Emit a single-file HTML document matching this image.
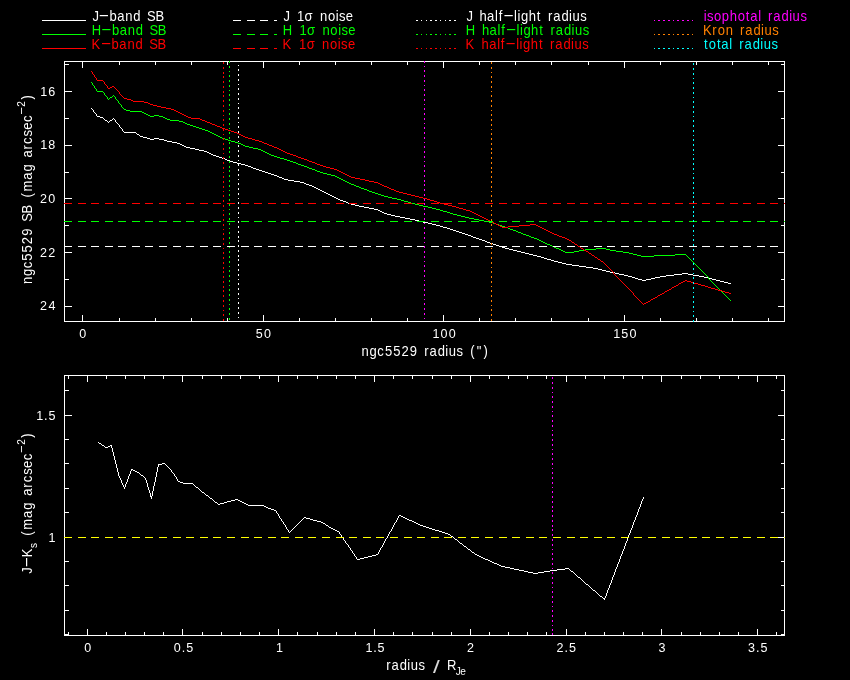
<!DOCTYPE html>
<html lang="en">
<head>
<meta charset="utf-8">
<title>ngc5529 surface brightness profile</title>
<style>
html,body{margin:0;padding:0;background:#000;}
body{width:850px;height:680px;overflow:hidden;}
svg{display:block;}
text{font-family:"Liberation Sans", sans-serif;white-space:pre;}
</style>
</head>
<body>
<svg width="850" height="680" viewBox="0 0 850 680" shape-rendering="crispEdges" role="img" aria-label="ngc5529 surface brightness and colour profiles">
<rect width="850" height="680" fill="#000"/>
<rect x="42" y="20" width="44" height="1" fill="#fff"/>
<line x1="233" y1="20.5" x2="277" y2="20.5" stroke="#fff" stroke-width="1" stroke-dasharray="8.0 5.583" stroke-dashoffset="0"/>
<rect x="42" y="34" width="44" height="1" fill="#0f0"/>
<line x1="233" y1="34.5" x2="277" y2="34.5" stroke="#0f0" stroke-width="1" stroke-dasharray="8.0 5.583" stroke-dashoffset="0"/>
<rect x="42" y="48" width="44" height="1" fill="#f00"/>
<line x1="233" y1="48.5" x2="277" y2="48.5" stroke="#f00" stroke-width="1" stroke-dasharray="8.0 5.583" stroke-dashoffset="0"/>
<rect x="416" y="20" width="2" height="1" fill="#fff"/>
<rect x="421" y="20" width="1" height="1" fill="#fff"/>
<rect x="426" y="20" width="1" height="1" fill="#fff"/>
<rect x="430" y="20" width="2" height="1" fill="#fff"/>
<rect x="435" y="20" width="2" height="1" fill="#fff"/>
<rect x="440" y="20" width="1" height="1" fill="#fff"/>
<rect x="445" y="20" width="1" height="1" fill="#fff"/>
<rect x="449" y="20" width="2" height="1" fill="#fff"/>
<rect x="454" y="20" width="2" height="1" fill="#fff"/>
<rect x="416" y="34" width="2" height="1" fill="#0f0"/>
<rect x="421" y="34" width="1" height="1" fill="#0f0"/>
<rect x="426" y="34" width="1" height="1" fill="#0f0"/>
<rect x="430" y="34" width="2" height="1" fill="#0f0"/>
<rect x="435" y="34" width="2" height="1" fill="#0f0"/>
<rect x="440" y="34" width="1" height="1" fill="#0f0"/>
<rect x="445" y="34" width="1" height="1" fill="#0f0"/>
<rect x="449" y="34" width="2" height="1" fill="#0f0"/>
<rect x="454" y="34" width="2" height="1" fill="#0f0"/>
<rect x="416" y="48" width="2" height="1" fill="#f00"/>
<rect x="421" y="48" width="1" height="1" fill="#f00"/>
<rect x="426" y="48" width="1" height="1" fill="#f00"/>
<rect x="430" y="48" width="2" height="1" fill="#f00"/>
<rect x="435" y="48" width="2" height="1" fill="#f00"/>
<rect x="440" y="48" width="1" height="1" fill="#f00"/>
<rect x="445" y="48" width="1" height="1" fill="#f00"/>
<rect x="449" y="48" width="2" height="1" fill="#f00"/>
<rect x="454" y="48" width="2" height="1" fill="#f00"/>
<rect x="654" y="20" width="1" height="1" fill="#f0f"/>
<rect x="658" y="20" width="2" height="1" fill="#f0f"/>
<rect x="663" y="20" width="2" height="1" fill="#f0f"/>
<rect x="668" y="20" width="2" height="1" fill="#f0f"/>
<rect x="673" y="20" width="1" height="1" fill="#f0f"/>
<rect x="677" y="20" width="2" height="1" fill="#f0f"/>
<rect x="682" y="20" width="2" height="1" fill="#f0f"/>
<rect x="687" y="20" width="2" height="1" fill="#f0f"/>
<rect x="692" y="20" width="1" height="1" fill="#f0f"/>
<rect x="654" y="34" width="1" height="1" fill="#ff8000"/>
<rect x="658" y="34" width="2" height="1" fill="#ff8000"/>
<rect x="663" y="34" width="2" height="1" fill="#ff8000"/>
<rect x="668" y="34" width="2" height="1" fill="#ff8000"/>
<rect x="673" y="34" width="1" height="1" fill="#ff8000"/>
<rect x="677" y="34" width="2" height="1" fill="#ff8000"/>
<rect x="682" y="34" width="2" height="1" fill="#ff8000"/>
<rect x="687" y="34" width="2" height="1" fill="#ff8000"/>
<rect x="692" y="34" width="1" height="1" fill="#ff8000"/>
<rect x="654" y="48" width="1" height="1" fill="#0ff"/>
<rect x="658" y="48" width="2" height="1" fill="#0ff"/>
<rect x="663" y="48" width="2" height="1" fill="#0ff"/>
<rect x="668" y="48" width="2" height="1" fill="#0ff"/>
<rect x="673" y="48" width="1" height="1" fill="#0ff"/>
<rect x="677" y="48" width="2" height="1" fill="#0ff"/>
<rect x="682" y="48" width="2" height="1" fill="#0ff"/>
<rect x="687" y="48" width="2" height="1" fill="#0ff"/>
<rect x="692" y="48" width="1" height="1" fill="#0ff"/>
<text transform="translate(92.00 21.00) scale(0.93 1)" x="0.46 10.55 18.82 27.12 35.84 44.45 54.01 59.28 68.18" y="0 0 0 0 0 0 0 0 0" font-size="14.0" fill="#fff">J<tspan x="6.84" y="-1.00" textLength="12.08" lengthAdjust="spacingAndGlyphs">-</tspan>band SB</text>
<text transform="translate(92.00 35.00) scale(0.93 1)" x="-0.17 13.21 21.48 29.78 38.51 47.11 56.67 61.95 70.84" y="0 0 0 0 0 0 0 0 0" font-size="14.0" fill="#0f0">H<tspan x="9.50" y="-1.00" textLength="12.08" lengthAdjust="spacingAndGlyphs">-</tspan>band SB</text>
<text transform="translate(92.00 49.00) scale(0.93 1)" x="-0.50 12.77 21.04 29.34 38.06 46.67 56.23 61.50 70.40" y="0 0 0 0 0 0 0 0 0" font-size="14.0" fill="#f00">K<tspan x="9.06" y="-1.00" textLength="12.08" lengthAdjust="spacingAndGlyphs">-</tspan>band SB</text>
<text transform="translate(283.00 21.00) scale(0.93 1)" x="0.46 8.71 15.01 23.25 34.03 39.84 48.29 56.62 60.28 67.62" y="0" font-size="14.0" fill="#fff">J 1σ noise</text>
<text transform="translate(283.00 35.00) scale(0.93 1)" x="-0.17 11.38 17.68 25.91 36.69 42.50 50.95 59.29 62.95 70.28" y="0" font-size="14.0" fill="#0f0">H 1σ noise</text>
<text transform="translate(283.00 49.00) scale(0.93 1)" x="-0.50 10.93 17.23 25.47 36.25 42.06 50.51 58.84 62.50 69.84" y="0" font-size="14.0" fill="#f00">K 1σ noise</text>
<text transform="translate(466.00 21.00) scale(0.93 1)" x="0.46 8.71 14.51 22.68 31.30 35.25 43.41 51.73 55.29 59.10 67.35 76.16 82.43 88.14 93.73 102.62 110.80 114.47 122.90" y="0 0 0 0 0 0 0 0 0 0 0 0 0 0 0 0 0 0 0" font-size="14.0" fill="#fff">J half<tspan x="39.70" y="-1.00" textLength="12.08" lengthAdjust="spacingAndGlyphs">-</tspan>light radius</text>
<text transform="translate(466.00 35.00) scale(0.93 1)" x="-0.17 11.38 17.17 25.34 33.97 37.91 46.07 54.40 57.96 61.77 70.02 78.82 85.10 90.80 96.40 105.29 113.47 117.13 125.57" y="0 0 0 0 0 0 0 0 0 0 0 0 0 0 0 0 0 0 0" font-size="14.0" fill="#0f0">H half<tspan x="42.37" y="-1.00" textLength="12.08" lengthAdjust="spacingAndGlyphs">-</tspan>light radius</text>
<text transform="translate(466.00 49.00) scale(0.93 1)" x="-0.50 10.93 16.73 24.90 33.52 37.47 45.63 53.95 57.51 61.32 69.57 78.38 84.65 90.36 95.95 104.84 113.02 116.69 125.12" y="0 0 0 0 0 0 0 0 0 0 0 0 0 0 0 0 0 0 0" font-size="14.0" fill="#f00">K half<tspan x="41.92" y="-1.00" textLength="12.08" lengthAdjust="spacingAndGlyphs">-</tspan>light radius</text>
<text transform="translate(703.50 21.00) scale(0.93 1)" x="0.22 3.89 11.43 19.71 28.27 36.74 45.52 50.21 58.84 63.78 69.48 75.08 83.97 92.15 95.81 104.25" y="0" font-size="14.0" fill="#f0f">isophotal radius</text>
<text transform="translate(703.50 35.00) scale(0.93 1)" x="-0.50 9.53 15.42 23.85 33.58 39.29 44.88 53.77 61.95 65.62 74.05" y="0" font-size="14.0" fill="#ff8000">Kron radius</text>
<text transform="translate(703.50 49.00) scale(0.93 1)" x="0.67 5.65 14.43 19.12 27.75 32.69 38.40 43.99 52.89 61.06 64.73 73.16" y="0" font-size="14.0" fill="#0ff">total radius</text>
<rect x="64" y="61" width="721" height="1" fill="#fff"/>
<rect x="64" y="321" width="721" height="1" fill="#fff"/>
<rect x="64" y="61" width="1" height="261" fill="#fff"/>
<rect x="784" y="61" width="1" height="261" fill="#fff"/>
<rect x="82" y="315" width="1" height="6" fill="#fff"/>
<rect x="82" y="62" width="1" height="6" fill="#fff"/>
<rect x="119" y="318" width="1" height="3" fill="#fff"/>
<rect x="119" y="62" width="1" height="3" fill="#fff"/>
<rect x="155" y="318" width="1" height="3" fill="#fff"/>
<rect x="155" y="62" width="1" height="3" fill="#fff"/>
<rect x="191" y="318" width="1" height="3" fill="#fff"/>
<rect x="191" y="62" width="1" height="3" fill="#fff"/>
<rect x="227" y="318" width="1" height="3" fill="#fff"/>
<rect x="227" y="62" width="1" height="3" fill="#fff"/>
<rect x="263" y="315" width="1" height="6" fill="#fff"/>
<rect x="263" y="62" width="1" height="6" fill="#fff"/>
<rect x="299" y="318" width="1" height="3" fill="#fff"/>
<rect x="299" y="62" width="1" height="3" fill="#fff"/>
<rect x="335" y="318" width="1" height="3" fill="#fff"/>
<rect x="335" y="62" width="1" height="3" fill="#fff"/>
<rect x="371" y="318" width="1" height="3" fill="#fff"/>
<rect x="371" y="62" width="1" height="3" fill="#fff"/>
<rect x="407" y="318" width="1" height="3" fill="#fff"/>
<rect x="407" y="62" width="1" height="3" fill="#fff"/>
<rect x="443" y="315" width="1" height="6" fill="#fff"/>
<rect x="443" y="62" width="1" height="6" fill="#fff"/>
<rect x="479" y="318" width="1" height="3" fill="#fff"/>
<rect x="479" y="62" width="1" height="3" fill="#fff"/>
<rect x="515" y="318" width="1" height="3" fill="#fff"/>
<rect x="515" y="62" width="1" height="3" fill="#fff"/>
<rect x="551" y="318" width="1" height="3" fill="#fff"/>
<rect x="551" y="62" width="1" height="3" fill="#fff"/>
<rect x="588" y="318" width="1" height="3" fill="#fff"/>
<rect x="588" y="62" width="1" height="3" fill="#fff"/>
<rect x="624" y="315" width="1" height="6" fill="#fff"/>
<rect x="624" y="62" width="1" height="6" fill="#fff"/>
<rect x="660" y="318" width="1" height="3" fill="#fff"/>
<rect x="660" y="62" width="1" height="3" fill="#fff"/>
<rect x="696" y="318" width="1" height="3" fill="#fff"/>
<rect x="696" y="62" width="1" height="3" fill="#fff"/>
<rect x="732" y="318" width="1" height="3" fill="#fff"/>
<rect x="732" y="62" width="1" height="3" fill="#fff"/>
<rect x="768" y="318" width="1" height="3" fill="#fff"/>
<rect x="768" y="62" width="1" height="3" fill="#fff"/>
<rect x="65" y="64" width="4" height="1" fill="#fff"/>
<rect x="781" y="64" width="3" height="1" fill="#fff"/>
<rect x="65" y="91" width="7" height="1" fill="#fff"/>
<rect x="778" y="91" width="6" height="1" fill="#fff"/>
<rect x="65" y="118" width="4" height="1" fill="#fff"/>
<rect x="781" y="118" width="3" height="1" fill="#fff"/>
<rect x="65" y="145" width="7" height="1" fill="#fff"/>
<rect x="778" y="145" width="6" height="1" fill="#fff"/>
<rect x="65" y="172" width="4" height="1" fill="#fff"/>
<rect x="781" y="172" width="3" height="1" fill="#fff"/>
<rect x="65" y="198" width="7" height="1" fill="#fff"/>
<rect x="778" y="198" width="6" height="1" fill="#fff"/>
<rect x="65" y="225" width="4" height="1" fill="#fff"/>
<rect x="781" y="225" width="3" height="1" fill="#fff"/>
<rect x="65" y="252" width="7" height="1" fill="#fff"/>
<rect x="778" y="252" width="6" height="1" fill="#fff"/>
<rect x="65" y="279" width="4" height="1" fill="#fff"/>
<rect x="781" y="279" width="3" height="1" fill="#fff"/>
<rect x="65" y="306" width="7" height="1" fill="#fff"/>
<rect x="778" y="306" width="6" height="1" fill="#fff"/>
<path d="M91 108h1v1h-1zM92 109h1v1h-1zM93 110h1v2h-1zM94 112h1v1h-1zM95 113h1v1h-1zM96 114h1v2h-1zM97 116h3v1h-3zM100 117h3v1h-3zM103 118h1v1h-1zM104 119h1v1h-1zM105 120h2v1h-2zM107 121h1v1h-1zM108 122h1v1h-1zM109 121h1v1h-1zM110 120h2v1h-2zM112 119h1v1h-1zM113 118h1v1h-1zM114 119h1v1h-1zM115 120h1v2h-1zM116 122h1v1h-1zM117 123h1v1h-1zM118 124h1v1h-1zM119 125h1v2h-1zM120 127h1v1h-1zM121 128h1v1h-1zM122 129h1v2h-1zM123 131h1v1h-1zM124 132h12v1h-12zM136 133h1v1h-1zM137 134h2v1h-2zM139 135h1v1h-1zM140 136h3v1h-3zM143 137h4v1h-4zM147 138h3v1h-3zM150 139h4v1h-4zM154 138h5v1h-5zM159 139h5v1h-5zM164 140h3v1h-3zM167 141h5v1h-5zM172 142h5v1h-5zM177 143h3v1h-3zM180 144h2v1h-2zM182 145h2v1h-2zM184 146h2v1h-2zM186 147h4v1h-4zM190 148h5v1h-5zM195 149h4v1h-4zM199 150h5v1h-5zM204 151h3v1h-3zM207 152h2v1h-2zM209 153h2v1h-2zM211 154h2v1h-2zM213 155h3v1h-3zM216 156h3v1h-3zM219 157h3v1h-3zM222 158h3v1h-3zM225 159h2v1h-2zM227 160h3v1h-3zM230 161h3v1h-3zM233 162h4v1h-4zM237 163h4v1h-4zM241 164h4v1h-4zM245 165h3v1h-3zM248 166h3v1h-3zM251 167h2v1h-2zM253 168h3v1h-3zM256 169h3v1h-3zM259 170h3v1h-3zM262 171h3v1h-3zM265 172h3v1h-3zM268 173h3v1h-3zM271 174h3v1h-3zM274 175h3v1h-3zM277 176h2v1h-2zM279 177h3v1h-3zM282 178h2v1h-2zM284 179h4v1h-4zM288 180h6v1h-6zM294 181h6v1h-6zM300 182h4v1h-4zM304 183h2v1h-2zM306 184h3v1h-3zM309 185h3v1h-3zM312 186h2v1h-2zM314 187h2v1h-2zM316 188h2v1h-2zM318 189h2v1h-2zM320 190h2v1h-2zM322 191h2v1h-2zM324 192h2v1h-2zM326 193h2v1h-2zM328 194h2v1h-2zM330 195h2v1h-2zM332 196h2v1h-2zM334 197h2v1h-2zM336 198h2v1h-2zM338 199h2v1h-2zM340 200h3v1h-3zM343 201h3v1h-3zM346 202h2v1h-2zM348 203h3v1h-3zM351 204h4v1h-4zM355 205h4v1h-4zM359 206h5v1h-5zM364 207h5v1h-5zM369 208h5v1h-5zM374 209h4v1h-4zM378 210h2v1h-2zM380 211h2v1h-2zM382 212h2v1h-2zM384 213h3v1h-3zM387 214h4v1h-4zM391 215h4v1h-4zM395 216h5v1h-5zM400 217h5v1h-5zM405 218h5v1h-5zM410 219h5v1h-5zM415 220h4v1h-4zM419 221h4v1h-4zM423 222h5v1h-5zM428 223h4v1h-4zM432 224h4v1h-4zM436 225h4v1h-4zM440 226h3v1h-3zM443 227h4v1h-4zM447 228h3v1h-3zM450 229h3v1h-3zM453 230h3v1h-3zM456 231h3v1h-3zM459 232h3v1h-3zM462 233h3v1h-3zM465 234h3v1h-3zM468 235h3v1h-3zM471 236h2v1h-2zM473 237h3v1h-3zM476 238h3v1h-3zM479 239h3v1h-3zM482 240h3v1h-3zM485 241h2v1h-2zM487 242h3v1h-3zM490 243h3v1h-3zM493 244h3v1h-3zM496 245h3v1h-3zM499 246h3v1h-3zM502 247h3v1h-3zM505 248h4v1h-4zM509 249h4v1h-4zM513 250h4v1h-4zM517 251h4v1h-4zM521 252h4v1h-4zM525 253h4v1h-4zM529 254h4v1h-4zM533 255h4v1h-4zM537 256h4v1h-4zM541 257h3v1h-3zM544 258h3v1h-3zM547 259h4v1h-4zM551 260h3v1h-3zM554 261h4v1h-4zM558 262h4v1h-4zM562 263h4v1h-4zM566 264h6v1h-6zM572 265h7v1h-7zM579 266h7v1h-7zM586 267h7v1h-7zM593 268h5v1h-5zM598 269h4v1h-4zM602 270h4v1h-4zM606 271h4v1h-4zM610 272h5v1h-5zM615 273h4v1h-4zM619 274h5v1h-5zM624 275h4v1h-4zM628 276h4v1h-4zM632 277h3v1h-3zM635 278h3v1h-3zM638 279h4v1h-4zM642 280h4v1h-4zM646 279h5v1h-5zM651 278h4v1h-4zM655 277h5v1h-5zM660 276h6v1h-6zM666 275h8v1h-8zM674 274h8v1h-8zM682 273h6v1h-6zM688 274h5v1h-5zM693 275h6v1h-6zM699 276h5v1h-5zM704 277h4v1h-4zM708 278h4v1h-4zM712 279h4v1h-4zM716 280h4v1h-4zM720 281h4v1h-4zM724 282h4v1h-4zM728 283h3v1h-3z" fill="#fff"/>
<path d="M91 82h1v1h-1zM92 83h1v2h-1zM93 85h1v1h-1zM94 86h1v2h-1zM95 88h1v1h-1zM96 89h1v2h-1zM97 91h6v1h-6zM103 92h1v1h-1zM104 93h1v2h-1zM105 95h1v1h-1zM106 96h1v1h-1zM107 97h1v2h-1zM108 99h1v1h-1zM109 98h1v1h-1zM110 97h2v1h-2zM112 96h1v1h-1zM113 95h1v1h-1zM114 96h1v1h-1zM115 97h1v2h-1zM116 99h1v1h-1zM117 100h1v1h-1zM118 101h1v2h-1zM119 103h1v1h-1zM120 104h1v1h-1zM121 105h1v2h-1zM122 107h1v1h-1zM123 108h1v1h-1zM124 109h2v1h-2zM126 110h4v1h-4zM130 111h12v1h-12zM142 112h2v1h-2zM144 113h2v1h-2zM146 114h2v1h-2zM148 115h2v1h-2zM150 116h4v1h-4zM154 115h5v1h-5zM159 116h4v1h-4zM163 117h2v1h-2zM165 118h2v1h-2zM167 119h3v1h-3zM170 120h9v1h-9zM179 121h4v1h-4zM183 122h2v1h-2zM185 123h2v1h-2zM187 124h3v1h-3zM190 125h3v1h-3zM193 126h3v1h-3zM196 127h3v1h-3zM199 128h3v1h-3zM202 129h3v1h-3zM205 130h3v1h-3zM208 131h2v1h-2zM210 132h2v1h-2zM212 133h2v1h-2zM214 134h2v1h-2zM216 135h2v1h-2zM218 136h2v1h-2zM220 137h2v1h-2zM222 138h3v1h-3zM225 139h3v1h-3zM228 140h3v1h-3zM231 141h4v1h-4zM235 142h3v1h-3zM238 143h3v1h-3zM241 144h2v1h-2zM243 145h2v1h-2zM245 146h4v1h-4zM249 147h4v1h-4zM253 148h5v1h-5zM258 149h3v1h-3zM261 150h2v1h-2zM263 151h2v1h-2zM265 152h2v1h-2zM267 153h2v1h-2zM269 154h2v1h-2zM271 155h3v1h-3zM274 156h3v1h-3zM277 157h3v1h-3zM280 158h4v1h-4zM284 159h3v1h-3zM287 160h3v1h-3zM290 161h3v1h-3zM293 162h3v1h-3zM296 163h2v1h-2zM298 164h3v1h-3zM301 165h3v1h-3zM304 166h3v1h-3zM307 167h2v1h-2zM309 168h3v1h-3zM312 169h3v1h-3zM315 170h2v1h-2zM317 171h3v1h-3zM320 172h3v1h-3zM323 173h4v1h-4zM327 174h4v1h-4zM331 175h4v1h-4zM335 176h2v1h-2zM337 177h2v1h-2zM339 178h2v1h-2zM341 179h2v1h-2zM343 180h2v1h-2zM345 181h2v1h-2zM347 182h2v1h-2zM349 183h2v1h-2zM351 184h3v1h-3zM354 185h2v1h-2zM356 186h3v1h-3zM359 187h2v1h-2zM361 188h3v1h-3zM364 189h3v1h-3zM367 190h2v1h-2zM369 191h3v1h-3zM372 192h3v1h-3zM375 193h3v1h-3zM378 194h3v1h-3zM381 195h3v1h-3zM384 196h4v1h-4zM388 197h4v1h-4zM392 198h5v1h-5zM397 199h4v1h-4zM401 200h3v1h-3zM404 201h4v1h-4zM408 202h3v1h-3zM411 203h4v1h-4zM415 204h4v1h-4zM419 205h4v1h-4zM423 206h5v1h-5zM428 207h4v1h-4zM432 208h4v1h-4zM436 209h4v1h-4zM440 210h3v1h-3zM443 211h4v1h-4zM447 212h3v1h-3zM450 213h3v1h-3zM453 214h4v1h-4zM457 215h4v1h-4zM461 216h4v1h-4zM465 217h4v1h-4zM469 218h5v1h-5zM474 219h5v1h-5zM479 220h5v1h-5zM484 221h5v1h-5zM489 222h4v1h-4zM493 223h3v1h-3zM496 224h3v1h-3zM499 225h3v1h-3zM502 226h3v1h-3zM505 227h3v1h-3zM508 228h2v1h-2zM510 229h3v1h-3zM513 230h3v1h-3zM516 231h2v1h-2zM518 232h3v1h-3zM521 233h2v1h-2zM523 234h3v1h-3zM526 235h3v1h-3zM529 236h2v1h-2zM531 237h3v1h-3zM534 238h3v1h-3zM537 239h2v1h-2zM539 240h2v1h-2zM541 241h2v1h-2zM543 242h2v1h-2zM545 243h2v1h-2zM547 244h3v1h-3zM550 245h2v1h-2zM552 246h2v1h-2zM554 247h2v1h-2zM556 248h3v1h-3zM559 249h2v1h-2zM561 250h2v1h-2zM563 251h2v1h-2zM565 252h9v1h-9zM574 251h5v1h-5zM579 250h6v1h-6zM585 249h11v1h-11zM596 248h10v1h-10zM606 249h4v1h-4zM610 250h6v1h-6zM616 251h7v1h-7zM623 252h6v1h-6zM629 253h4v1h-4zM633 254h4v1h-4zM637 255h4v1h-4zM641 256h13v1h-13zM654 255h21v1h-21zM675 254h11v1h-11zM686 255h1v1h-1zM687 256h1v1h-1zM688 257h1v1h-1zM689 258h1v1h-1zM690 259h1v1h-1zM691 260h1v1h-1zM692 261h1v1h-1zM693 262h1v1h-1zM694 263h1v1h-1zM695 264h1v1h-1zM696 265h1v1h-1zM697 266h1v1h-1zM698 267h1v1h-1zM699 268h1v1h-1zM700 269h1v1h-1zM701 270h1v1h-1zM702 271h1v1h-1zM703 272h1v1h-1zM704 273h1v1h-1zM705 274h1v1h-1zM706 275h1v1h-1zM707 276h1v1h-1zM708 277h1v2h-1zM709 279h1v1h-1zM710 280h1v1h-1zM711 281h1v1h-1zM712 282h1v1h-1zM713 283h1v1h-1zM714 284h1v1h-1zM715 285h1v1h-1zM716 286h1v1h-1zM717 287h1v1h-1zM718 288h1v1h-1zM719 289h1v1h-1zM720 290h1v1h-1zM721 291h1v1h-1zM722 292h1v1h-1zM723 293h1v1h-1zM724 294h1v1h-1zM725 295h1v1h-1zM726 296h1v1h-1zM727 297h1v1h-1zM728 298h1v1h-1zM729 299h1v1h-1zM730 300h1v1h-1z" fill="#0f0"/>
<path d="M91 71h1v1h-1zM92 72h1v2h-1zM93 74h1v1h-1zM94 75h1v2h-1zM95 77h1v1h-1zM96 78h1v2h-1zM97 80h6v1h-6zM103 81h1v1h-1zM104 82h1v2h-1zM105 84h1v1h-1zM106 85h1v1h-1zM107 86h1v2h-1zM108 88h2v1h-2zM110 87h2v1h-2zM112 86h2v1h-2zM114 87h1v1h-1zM115 88h1v1h-1zM116 89h1v1h-1zM117 90h1v1h-1zM118 91h1v1h-1zM119 92h1v2h-1zM120 94h1v1h-1zM121 95h1v1h-1zM122 96h1v1h-1zM123 97h1v1h-1zM124 98h3v1h-3zM127 99h4v1h-4zM131 100h2v1h-2zM133 101h11v1h-11zM144 102h4v1h-4zM148 103h2v1h-2zM150 104h3v1h-3zM153 105h4v1h-4zM157 106h4v1h-4zM161 107h5v1h-5zM166 108h5v1h-5zM171 109h3v1h-3zM174 110h2v1h-2zM176 111h2v1h-2zM178 112h2v1h-2zM180 113h2v1h-2zM182 114h2v1h-2zM184 115h2v1h-2zM186 116h2v1h-2zM188 117h3v1h-3zM191 118h9v1h-9zM200 119h2v1h-2zM202 120h3v1h-3zM205 121h2v1h-2zM207 122h3v1h-3zM210 123h2v1h-2zM212 124h3v1h-3zM215 125h2v1h-2zM217 126h3v1h-3zM220 127h2v1h-2zM222 128h3v1h-3zM225 129h3v1h-3zM228 130h3v1h-3zM231 131h3v1h-3zM234 132h3v1h-3zM237 133h2v1h-2zM239 134h2v1h-2zM241 135h2v1h-2zM243 136h2v1h-2zM245 137h3v1h-3zM248 138h4v1h-4zM252 139h3v1h-3zM255 140h4v1h-4zM259 141h3v1h-3zM262 142h2v1h-2zM264 143h3v1h-3zM267 144h2v1h-2zM269 145h3v1h-3zM272 146h2v1h-2zM274 147h3v1h-3zM277 148h2v1h-2zM279 149h2v1h-2zM281 150h2v1h-2zM283 151h2v1h-2zM285 152h2v1h-2zM287 153h3v1h-3zM290 154h3v1h-3zM293 155h3v1h-3zM296 156h2v1h-2zM298 157h3v1h-3zM301 158h3v1h-3zM304 159h3v1h-3zM307 160h2v1h-2zM309 161h3v1h-3zM312 162h3v1h-3zM315 163h2v1h-2zM317 164h3v1h-3zM320 165h3v1h-3zM323 166h3v1h-3zM326 167h4v1h-4zM330 168h4v1h-4zM334 169h3v1h-3zM337 170h2v1h-2zM339 171h2v1h-2zM341 172h2v1h-2zM343 173h2v1h-2zM345 174h2v1h-2zM347 175h2v1h-2zM349 176h2v1h-2zM351 177h4v1h-4zM355 178h5v1h-5zM360 179h5v1h-5zM365 180h4v1h-4zM369 181h5v1h-5zM374 182h4v1h-4zM378 183h2v1h-2zM380 184h2v1h-2zM382 185h2v1h-2zM384 186h3v1h-3zM387 187h2v1h-2zM389 188h2v1h-2zM391 189h3v1h-3zM394 190h2v1h-2zM396 191h3v1h-3zM399 192h4v1h-4zM403 193h4v1h-4zM407 194h4v1h-4zM411 195h4v1h-4zM415 196h4v1h-4zM419 197h4v1h-4zM423 198h4v1h-4zM427 199h3v1h-3zM430 200h4v1h-4zM434 201h3v1h-3zM437 202h3v1h-3zM440 203h4v1h-4zM444 204h4v1h-4zM448 205h4v1h-4zM452 206h4v1h-4zM456 207h3v1h-3zM459 208h4v1h-4zM463 209h3v1h-3zM466 210h4v1h-4zM470 211h2v1h-2zM472 212h2v1h-2zM474 213h2v1h-2zM476 214h2v1h-2zM478 215h2v1h-2zM480 216h2v1h-2zM482 217h2v1h-2zM484 218h2v1h-2zM486 219h2v1h-2zM488 220h2v1h-2zM490 221h2v1h-2zM492 222h2v1h-2zM494 223h2v1h-2zM496 224h2v1h-2zM498 225h2v1h-2zM500 226h2v1h-2zM502 227h6v1h-6zM508 226h11v1h-11zM519 225h11v1h-11zM530 224h6v1h-6zM536 225h2v1h-2zM538 226h2v1h-2zM540 227h2v1h-2zM542 228h2v1h-2zM544 229h2v1h-2zM546 230h2v1h-2zM548 231h2v1h-2zM550 232h2v1h-2zM552 233h2v1h-2zM554 234h3v1h-3zM557 235h2v1h-2zM559 236h3v1h-3zM562 237h3v1h-3zM565 238h2v1h-2zM567 239h2v1h-2zM569 240h2v1h-2zM571 241h1v1h-1zM572 242h2v1h-2zM574 243h1v1h-1zM575 244h2v1h-2zM577 245h1v1h-1zM578 246h2v1h-2zM580 247h1v1h-1zM581 248h2v1h-2zM583 249h1v1h-1zM584 250h2v1h-2zM586 251h2v1h-2zM588 252h1v1h-1zM589 253h2v1h-2zM591 254h1v1h-1zM592 255h2v1h-2zM594 256h1v1h-1zM595 257h2v1h-2zM597 258h1v1h-1zM598 259h2v1h-2zM600 260h1v1h-1zM601 261h2v1h-2zM603 262h1v1h-1zM604 263h1v1h-1zM605 264h1v1h-1zM606 265h1v1h-1zM607 266h1v1h-1zM608 267h1v1h-1zM609 268h1v1h-1zM610 269h1v1h-1zM611 270h1v1h-1zM612 271h1v1h-1zM613 272h1v2h-1zM614 274h1v1h-1zM615 275h1v1h-1zM616 276h1v1h-1zM617 277h1v1h-1zM618 278h1v1h-1zM619 279h1v1h-1zM620 280h1v1h-1zM621 281h1v1h-1zM622 282h1v1h-1zM623 283h1v1h-1zM624 284h1v1h-1zM625 285h1v1h-1zM626 286h1v1h-1zM627 287h1v1h-1zM628 288h1v1h-1zM629 289h1v1h-1zM630 290h1v1h-1zM631 291h1v1h-1zM632 292h1v1h-1zM633 293h1v2h-1zM634 295h1v1h-1zM635 296h1v1h-1zM636 297h1v1h-1zM637 298h1v1h-1zM638 299h1v1h-1zM639 300h1v1h-1zM640 301h1v1h-1zM641 302h1v1h-1zM642 303h1v1h-1zM643 304h1v1h-1zM644 303h2v1h-2zM646 302h2v1h-2zM648 301h2v1h-2zM650 300h1v1h-1zM651 299h2v1h-2zM653 298h2v1h-2zM655 297h2v1h-2zM657 296h1v1h-1zM658 295h2v1h-2zM660 294h2v1h-2zM662 293h2v1h-2zM664 292h1v1h-1zM665 291h2v1h-2zM667 290h2v1h-2zM669 289h2v1h-2zM671 288h1v1h-1zM672 287h2v1h-2zM674 286h2v1h-2zM676 285h2v1h-2zM678 284h1v1h-1zM679 283h2v1h-2zM681 282h2v1h-2zM683 281h2v1h-2zM685 280h2v1h-2zM687 281h4v1h-4zM691 282h3v1h-3zM694 283h4v1h-4zM698 284h3v1h-3zM701 285h4v1h-4zM705 286h3v1h-3zM708 287h3v1h-3zM711 288h4v1h-4zM715 289h3v1h-3zM718 290h4v1h-4zM722 291h3v1h-3zM725 292h4v1h-4zM729 293h2v1h-2z" fill="#f00"/>
<line x1="64" y1="246.5" x2="785" y2="246.5" stroke="#fff" stroke-width="1" stroke-dasharray="8.0 5.583" stroke-dashoffset="0"/>
<line x1="64" y1="221.5" x2="785" y2="221.5" stroke="#0f0" stroke-width="1" stroke-dasharray="8.0 5.583" stroke-dashoffset="0"/>
<line x1="64" y1="203.5" x2="785" y2="203.5" stroke="#f00" stroke-width="1" stroke-dasharray="8.0 5.583" stroke-dashoffset="0"/>
<line x1="238.5" y1="61" x2="238.5" y2="322" stroke="#fff" stroke-width="1" stroke-dasharray="1.8 2.956" stroke-dashoffset="1.256"/>
<line x1="229.5" y1="61" x2="229.5" y2="322" stroke="#0f0" stroke-width="1" stroke-dasharray="1.8 2.956" stroke-dashoffset="4.656"/>
<line x1="223.5" y1="61" x2="223.5" y2="322" stroke="#f00" stroke-width="1" stroke-dasharray="1.8 2.956" stroke-dashoffset="3.556"/>
<line x1="424.5" y1="61" x2="424.5" y2="322" stroke="#f0f" stroke-width="1" stroke-dasharray="1.8 2.956" stroke-dashoffset="0.200"/>
<line x1="491.5" y1="61" x2="491.5" y2="322" stroke="#ff8000" stroke-width="1" stroke-dasharray="1.8 2.956" stroke-dashoffset="3.656"/>
<line x1="693.5" y1="61" x2="693.5" y2="322" stroke="#0ff" stroke-width="1" stroke-dasharray="1.8 2.956" stroke-dashoffset="2.456"/>
<rect x="64" y="375" width="721" height="1" fill="#fff"/>
<rect x="64" y="635" width="721" height="1" fill="#fff"/>
<rect x="64" y="375" width="1" height="261" fill="#fff"/>
<rect x="784" y="375" width="1" height="261" fill="#fff"/>
<rect x="68" y="632" width="1" height="3" fill="#fff"/>
<rect x="68" y="376" width="1" height="3" fill="#fff"/>
<rect x="87" y="629" width="1" height="6" fill="#fff"/>
<rect x="87" y="376" width="1" height="6" fill="#fff"/>
<rect x="106" y="632" width="1" height="3" fill="#fff"/>
<rect x="106" y="376" width="1" height="3" fill="#fff"/>
<rect x="125" y="632" width="1" height="3" fill="#fff"/>
<rect x="125" y="376" width="1" height="3" fill="#fff"/>
<rect x="144" y="632" width="1" height="3" fill="#fff"/>
<rect x="144" y="376" width="1" height="3" fill="#fff"/>
<rect x="163" y="632" width="1" height="3" fill="#fff"/>
<rect x="163" y="376" width="1" height="3" fill="#fff"/>
<rect x="182" y="629" width="1" height="6" fill="#fff"/>
<rect x="182" y="376" width="1" height="6" fill="#fff"/>
<rect x="202" y="632" width="1" height="3" fill="#fff"/>
<rect x="202" y="376" width="1" height="3" fill="#fff"/>
<rect x="221" y="632" width="1" height="3" fill="#fff"/>
<rect x="221" y="376" width="1" height="3" fill="#fff"/>
<rect x="240" y="632" width="1" height="3" fill="#fff"/>
<rect x="240" y="376" width="1" height="3" fill="#fff"/>
<rect x="259" y="632" width="1" height="3" fill="#fff"/>
<rect x="259" y="376" width="1" height="3" fill="#fff"/>
<rect x="278" y="629" width="1" height="6" fill="#fff"/>
<rect x="278" y="376" width="1" height="6" fill="#fff"/>
<rect x="297" y="632" width="1" height="3" fill="#fff"/>
<rect x="297" y="376" width="1" height="3" fill="#fff"/>
<rect x="317" y="632" width="1" height="3" fill="#fff"/>
<rect x="317" y="376" width="1" height="3" fill="#fff"/>
<rect x="336" y="632" width="1" height="3" fill="#fff"/>
<rect x="336" y="376" width="1" height="3" fill="#fff"/>
<rect x="355" y="632" width="1" height="3" fill="#fff"/>
<rect x="355" y="376" width="1" height="3" fill="#fff"/>
<rect x="374" y="629" width="1" height="6" fill="#fff"/>
<rect x="374" y="376" width="1" height="6" fill="#fff"/>
<rect x="393" y="632" width="1" height="3" fill="#fff"/>
<rect x="393" y="376" width="1" height="3" fill="#fff"/>
<rect x="412" y="632" width="1" height="3" fill="#fff"/>
<rect x="412" y="376" width="1" height="3" fill="#fff"/>
<rect x="432" y="632" width="1" height="3" fill="#fff"/>
<rect x="432" y="376" width="1" height="3" fill="#fff"/>
<rect x="451" y="632" width="1" height="3" fill="#fff"/>
<rect x="451" y="376" width="1" height="3" fill="#fff"/>
<rect x="470" y="629" width="1" height="6" fill="#fff"/>
<rect x="470" y="376" width="1" height="6" fill="#fff"/>
<rect x="489" y="632" width="1" height="3" fill="#fff"/>
<rect x="489" y="376" width="1" height="3" fill="#fff"/>
<rect x="508" y="632" width="1" height="3" fill="#fff"/>
<rect x="508" y="376" width="1" height="3" fill="#fff"/>
<rect x="527" y="632" width="1" height="3" fill="#fff"/>
<rect x="527" y="376" width="1" height="3" fill="#fff"/>
<rect x="546" y="632" width="1" height="3" fill="#fff"/>
<rect x="546" y="376" width="1" height="3" fill="#fff"/>
<rect x="566" y="629" width="1" height="6" fill="#fff"/>
<rect x="566" y="376" width="1" height="6" fill="#fff"/>
<rect x="585" y="632" width="1" height="3" fill="#fff"/>
<rect x="585" y="376" width="1" height="3" fill="#fff"/>
<rect x="604" y="632" width="1" height="3" fill="#fff"/>
<rect x="604" y="376" width="1" height="3" fill="#fff"/>
<rect x="623" y="632" width="1" height="3" fill="#fff"/>
<rect x="623" y="376" width="1" height="3" fill="#fff"/>
<rect x="642" y="632" width="1" height="3" fill="#fff"/>
<rect x="642" y="376" width="1" height="3" fill="#fff"/>
<rect x="661" y="629" width="1" height="6" fill="#fff"/>
<rect x="661" y="376" width="1" height="6" fill="#fff"/>
<rect x="681" y="632" width="1" height="3" fill="#fff"/>
<rect x="681" y="376" width="1" height="3" fill="#fff"/>
<rect x="700" y="632" width="1" height="3" fill="#fff"/>
<rect x="700" y="376" width="1" height="3" fill="#fff"/>
<rect x="719" y="632" width="1" height="3" fill="#fff"/>
<rect x="719" y="376" width="1" height="3" fill="#fff"/>
<rect x="738" y="632" width="1" height="3" fill="#fff"/>
<rect x="738" y="376" width="1" height="3" fill="#fff"/>
<rect x="757" y="629" width="1" height="6" fill="#fff"/>
<rect x="757" y="376" width="1" height="6" fill="#fff"/>
<rect x="776" y="632" width="1" height="3" fill="#fff"/>
<rect x="776" y="376" width="1" height="3" fill="#fff"/>
<rect x="65" y="634" width="4" height="1" fill="#fff"/>
<rect x="781" y="634" width="3" height="1" fill="#fff"/>
<rect x="65" y="610" width="4" height="1" fill="#fff"/>
<rect x="781" y="610" width="3" height="1" fill="#fff"/>
<rect x="65" y="585" width="4" height="1" fill="#fff"/>
<rect x="781" y="585" width="3" height="1" fill="#fff"/>
<rect x="65" y="561" width="4" height="1" fill="#fff"/>
<rect x="781" y="561" width="3" height="1" fill="#fff"/>
<rect x="65" y="537" width="7" height="1" fill="#fff"/>
<rect x="778" y="537" width="6" height="1" fill="#fff"/>
<rect x="65" y="512" width="4" height="1" fill="#fff"/>
<rect x="781" y="512" width="3" height="1" fill="#fff"/>
<rect x="65" y="488" width="4" height="1" fill="#fff"/>
<rect x="781" y="488" width="3" height="1" fill="#fff"/>
<rect x="65" y="463" width="4" height="1" fill="#fff"/>
<rect x="781" y="463" width="3" height="1" fill="#fff"/>
<rect x="65" y="439" width="4" height="1" fill="#fff"/>
<rect x="781" y="439" width="3" height="1" fill="#fff"/>
<rect x="65" y="415" width="7" height="1" fill="#fff"/>
<rect x="778" y="415" width="6" height="1" fill="#fff"/>
<rect x="65" y="390" width="4" height="1" fill="#fff"/>
<rect x="781" y="390" width="3" height="1" fill="#fff"/>
<path d="M98 442h1v1h-1zM99 443h2v1h-2zM101 444h1v1h-1zM102 445h2v1h-2zM104 446h1v1h-1zM105 447h3v1h-3zM108 446h2v1h-2zM110 445h2v1h-2zM111 446h1v2h-1zM112 448h1v4h-1zM113 452h1v4h-1zM114 456h1v4h-1zM115 460h1v4h-1zM116 464h1v4h-1zM117 468h1v4h-1zM118 472h1v4h-1zM119 476h1v2h-1zM120 478h1v2h-1zM121 480h1v3h-1zM122 483h1v2h-1zM123 485h1v2h-1zM124 487h1v2h-1zM125 484h1v3h-1zM126 482h1v2h-1zM127 479h1v3h-1zM128 476h1v3h-1zM129 474h1v2h-1zM130 471h1v3h-1zM131 470h1v1h-1zM131 469h2v1h-2zM133 470h2v1h-2zM135 471h2v1h-2zM137 472h2v1h-2zM139 473h1v1h-1zM140 474h1v1h-1zM141 475h2v1h-2zM143 476h1v1h-1zM144 477h1v1h-1zM145 478h1v2h-1zM146 480h1v3h-1zM147 483h1v4h-1zM148 487h1v3h-1zM149 490h1v3h-1zM150 493h1v3h-1zM150 496h2v1h-2zM151 497h1v2h-1zM152 491h1v5h-1zM153 486h1v5h-1zM154 482h1v4h-1zM155 477h1v5h-1zM156 472h1v5h-1zM157 467h1v5h-1zM158 465h1v2h-1zM158 464h4v1h-4zM162 463h3v1h-3zM165 464h1v1h-1zM166 465h1v1h-1zM167 466h1v1h-1zM168 467h1v1h-1zM169 468h1v1h-1zM170 469h1v1h-1zM171 470h1v2h-1zM172 472h1v1h-1zM173 473h1v1h-1zM174 474h1v2h-1zM175 476h1v1h-1zM176 477h1v2h-1zM177 479h1v2h-1zM178 481h2v1h-2zM180 482h3v1h-3zM183 483h10v1h-10zM193 484h1v1h-1zM194 485h1v1h-1zM195 486h1v1h-1zM196 487h2v1h-2zM198 488h1v1h-1zM199 489h1v1h-1zM200 490h1v1h-1zM201 491h1v1h-1zM202 492h2v1h-2zM204 493h1v1h-1zM205 494h1v1h-1zM206 495h2v1h-2zM208 496h1v1h-1zM209 497h1v1h-1zM210 498h2v1h-2zM212 499h1v1h-1zM213 500h1v1h-1zM214 501h1v1h-1zM215 502h2v1h-2zM217 503h1v1h-1zM218 504h2v1h-2zM220 503h4v1h-4zM224 502h3v1h-3zM227 501h4v1h-4zM231 500h4v1h-4zM235 499h3v1h-3zM238 500h2v1h-2zM240 501h2v1h-2zM242 502h2v1h-2zM244 503h2v1h-2zM246 504h2v1h-2zM248 505h16v1h-16zM264 506h2v1h-2zM266 507h2v1h-2zM268 508h3v1h-3zM271 509h3v1h-3zM274 510h2v1h-2zM276 511h1v2h-1zM277 513h1v1h-1zM278 514h1v2h-1zM279 516h1v2h-1zM280 518h1v1h-1zM281 519h1v2h-1zM282 521h1v1h-1zM283 522h1v2h-1zM284 524h1v1h-1zM285 525h1v2h-1zM286 527h1v2h-1zM287 529h1v1h-1zM288 530h1v2h-1zM289 532h1v1h-1zM290 531h1v1h-1zM291 530h1v1h-1zM292 529h1v1h-1zM293 528h1v1h-1zM294 527h1v1h-1zM295 526h1v1h-1zM296 525h1v1h-1zM297 524h1v1h-1zM298 523h1v1h-1zM299 522h1v1h-1zM300 521h1v1h-1zM301 520h1v1h-1zM302 519h1v1h-1zM303 518h1v1h-1zM304 517h2v1h-2zM306 518h4v1h-4zM310 519h3v1h-3zM313 520h4v1h-4zM317 521h4v1h-4zM321 522h2v1h-2zM323 523h2v1h-2zM325 524h1v1h-1zM326 525h2v1h-2zM328 526h1v1h-1zM329 527h2v1h-2zM331 528h2v1h-2zM333 529h2v1h-2zM335 530h2v1h-2zM337 531h2v1h-2zM339 532h1v2h-1zM340 534h1v1h-1zM341 535h1v2h-1zM342 537h1v1h-1zM343 538h1v2h-1zM344 540h1v1h-1zM345 541h1v2h-1zM346 543h1v1h-1zM347 544h1v1h-1zM348 545h1v2h-1zM349 547h1v1h-1zM350 548h1v2h-1zM351 550h1v1h-1zM352 551h1v2h-1zM353 553h1v1h-1zM354 554h1v2h-1zM355 556h1v1h-1zM356 557h1v2h-1zM357 559h3v1h-3zM360 558h4v1h-4zM364 557h4v1h-4zM368 556h4v1h-4zM372 555h4v1h-4zM376 554h2v1h-2zM378 552h1v2h-1zM379 550h1v2h-1zM380 548h1v2h-1zM381 547h1v1h-1zM382 545h1v2h-1zM383 543h1v2h-1zM384 541h1v2h-1zM385 539h1v2h-1zM386 538h1v1h-1zM387 536h1v2h-1zM388 534h1v2h-1zM389 532h1v2h-1zM390 531h1v1h-1zM391 529h1v2h-1zM392 527h1v2h-1zM393 525h1v2h-1zM394 523h1v2h-1zM395 522h1v1h-1zM396 520h1v2h-1zM397 518h1v2h-1zM398 516h1v2h-1zM399 515h2v1h-2zM401 516h2v1h-2zM403 517h2v1h-2zM405 518h2v1h-2zM407 519h2v1h-2zM409 520h3v1h-3zM412 521h2v1h-2zM414 522h2v1h-2zM416 523h2v1h-2zM418 524h2v1h-2zM420 525h3v1h-3zM423 526h3v1h-3zM426 527h3v1h-3zM429 528h3v1h-3zM432 529h3v1h-3zM435 530h4v1h-4zM439 531h3v1h-3zM442 532h3v1h-3zM445 533h3v1h-3zM448 534h2v1h-2zM450 535h1v1h-1zM451 536h2v1h-2zM453 537h1v1h-1zM454 538h1v1h-1zM455 539h2v1h-2zM457 540h1v1h-1zM458 541h1v1h-1zM459 542h1v1h-1zM460 543h2v1h-2zM462 544h1v1h-1zM463 545h1v1h-1zM464 546h2v1h-2zM466 547h1v1h-1zM467 548h1v1h-1zM468 549h2v1h-2zM470 550h1v1h-1zM471 551h1v1h-1zM472 552h2v1h-2zM474 553h1v1h-1zM475 554h2v1h-2zM477 555h2v1h-2zM479 556h2v1h-2zM481 557h2v1h-2zM483 558h2v1h-2zM485 559h3v1h-3zM488 560h2v1h-2zM490 561h2v1h-2zM492 562h2v1h-2zM494 563h3v1h-3zM497 564h2v1h-2zM499 565h2v1h-2zM501 566h4v1h-4zM505 567h5v1h-5zM510 568h4v1h-4zM514 569h5v1h-5zM519 570h5v1h-5zM524 571h4v1h-4zM528 572h5v1h-5zM533 573h5v1h-5zM538 572h6v1h-6zM544 571h6v1h-6zM550 570h7v1h-7zM557 569h8v1h-8zM565 568h4v1h-4zM569 569h1v1h-1zM570 570h1v1h-1zM571 571h2v1h-2zM573 572h1v1h-1zM574 573h1v1h-1zM575 574h1v1h-1zM576 575h1v1h-1zM577 576h1v1h-1zM578 577h2v1h-2zM580 578h1v1h-1zM581 579h1v1h-1zM582 580h1v1h-1zM583 581h1v1h-1zM584 582h1v1h-1zM585 583h1v1h-1zM586 584h2v1h-2zM588 585h1v1h-1zM589 586h1v1h-1zM590 587h1v1h-1zM591 588h1v1h-1zM592 589h1v1h-1zM593 590h2v1h-2zM595 591h1v1h-1zM596 592h1v1h-1zM597 593h1v1h-1zM598 594h1v1h-1zM599 595h1v1h-1zM600 596h2v1h-2zM602 597h1v1h-1zM603 598h2v1h-2zM604 599h1v1h-1zM605 596h1v2h-1zM606 593h1v3h-1zM607 590h1v3h-1zM608 588h1v2h-1zM609 585h1v3h-1zM610 583h1v2h-1zM611 580h1v3h-1zM612 577h1v3h-1zM613 575h1v2h-1zM614 572h1v3h-1zM615 569h1v3h-1zM616 567h1v2h-1zM617 564h1v3h-1zM618 562h1v2h-1zM619 559h1v3h-1zM620 556h1v3h-1zM621 554h1v2h-1zM622 551h1v3h-1zM623 549h1v2h-1zM624 546h1v3h-1zM625 543h1v3h-1zM626 541h1v2h-1zM627 538h1v3h-1zM628 535h1v3h-1zM629 533h1v2h-1zM630 530h1v3h-1zM631 528h1v2h-1zM632 525h1v3h-1zM633 522h1v3h-1zM634 520h1v2h-1zM635 517h1v3h-1zM636 515h1v2h-1zM637 512h1v3h-1zM638 509h1v3h-1zM639 507h1v2h-1zM640 504h1v3h-1zM641 501h1v3h-1zM642 499h1v2h-1zM643 497h1v2h-1z" fill="#fff"/>
<line x1="64" y1="537.5" x2="785" y2="537.5" stroke="#ff0" stroke-width="1" stroke-dasharray="8.0 5.583" stroke-dashoffset="0"/>
<line x1="552.5" y1="375" x2="552.5" y2="635" stroke="#f0f" stroke-width="1" stroke-dasharray="1.8 2.956" stroke-dashoffset="2.456"/>
<rect x="552" y="633" width="1" height="2" fill="#f0f"/>
<text transform="translate(39.48 95.50) scale(0.93 1)" x="0.95 9.52" y="0" font-size="13.5" fill="#fff">16</text>
<text transform="translate(39.48 149.20) scale(0.93 1)" x="0.95 9.57" y="0" font-size="13.5" fill="#fff">18</text>
<text transform="translate(39.48 202.90) scale(0.93 1)" x="0.69 9.57" y="0" font-size="13.5" fill="#fff">20</text>
<text transform="translate(39.48 256.60) scale(0.93 1)" x="0.69 9.57" y="0" font-size="13.5" fill="#fff">22</text>
<text transform="translate(39.48 310.30) scale(0.93 1)" x="0.69 9.61" y="0" font-size="13.5" fill="#fff">24</text>
<text transform="translate(78.57 338.00) scale(0.93 1)" x="0.69" y="0" font-size="13.5" fill="#fff">0</text>
<text transform="translate(255.11 338.00) scale(0.93 1)" x="0.70 9.57" y="0" font-size="13.5" fill="#fff">50</text>
<text transform="translate(431.64 338.00) scale(0.93 1)" x="0.95 9.57 18.45" y="0" font-size="13.5" fill="#fff">100</text>
<text transform="translate(612.31 338.00) scale(0.93 1)" x="0.95 9.58 18.45" y="0" font-size="13.5" fill="#fff">150</text>
<text transform="translate(361.30 356.20) scale(0.93 1)" x="0.32 8.92 17.26 25.43 34.31 43.18 52.07 62.00 67.71 73.30 82.19 90.37 94.04 102.47 111.30 117.18 124.08 131.29" y="0" font-size="14.0" fill="#fff">ngc5529 radius (&quot;)</text>
<text transform="translate(31.50 284.28) rotate(-90) scale(0.93 1)" x="0.32 8.92 17.26 25.43 34.31 43.18 52.07 62.00 67.28 76.17 87.32 93.20 99.86 112.38 121.27 130.84 136.36 144.98 150.93 158.87 166.21 174.47" y="0" font-size="14.0" fill="#fff">ngc5529 SB (mag arcsec</text>
<text transform="translate(24.90 114.95) rotate(-90) scale(0.93 1)" x="2.51 8.96" y="0 0" font-size="10.9" fill="#fff"><tspan x="-0.20" y="-0.75" textLength="9.06" lengthAdjust="spacingAndGlyphs">-</tspan>2</text>
<text transform="translate(31.50 100.70) rotate(-90) scale(0.93 1)" x="1.17" y="0" font-size="14.0" fill="#fff">)</text>
<text transform="translate(35.35 419.50) scale(0.93 1)" x="0.95 9.23 14.02" y="0" font-size="13.5" fill="#fff">1.5</text>
<text transform="translate(47.74 541.50) scale(0.93 1)" x="0.95" y="0" font-size="13.5" fill="#fff">1</text>
<text transform="translate(83.67 652.00) scale(0.93 1)" x="0.69" y="0" font-size="13.5" fill="#fff">0</text>
<text transform="translate(173.18 652.00) scale(0.93 1)" x="0.69 9.23 14.02" y="0" font-size="13.5" fill="#fff">0.5</text>
<text transform="translate(275.07 652.00) scale(0.93 1)" x="0.95" y="0" font-size="13.5" fill="#fff">1</text>
<text transform="translate(364.58 652.00) scale(0.93 1)" x="0.95 9.23 14.02" y="0" font-size="13.5" fill="#fff">1.5</text>
<text transform="translate(466.47 652.00) scale(0.93 1)" x="0.69" y="0" font-size="13.5" fill="#fff">2</text>
<text transform="translate(555.97 652.00) scale(0.93 1)" x="0.69 9.23 14.02" y="0" font-size="13.5" fill="#fff">2.5</text>
<text transform="translate(657.87 652.00) scale(0.93 1)" x="0.73" y="0" font-size="13.5" fill="#fff">3</text>
<text transform="translate(747.37 652.00) scale(0.93 1)" x="0.73 9.23 14.02" y="0" font-size="13.5" fill="#fff">3.5</text>
<text transform="translate(386.00 669.80) scale(0.93 1)" x="0.21 5.80 14.69 22.87 26.54 34.97 43.80 52.23 60.67 65.53" y="0 0 0 0 0 0 0 0 0 0" font-size="14.0" fill="#fff">radius <tspan x="50.53" y="2.80" font-size="19.04" fill-opacity="0.85" textLength="7.30" lengthAdjust="spacingAndGlyphs">/</tspan> R</text>
<text transform="translate(455.41 674.80) scale(0.93 1)" x="0.26 5.31" y="0" font-size="10.9" fill="#fff">Je</text>
<text transform="translate(31.50 574.07) rotate(-90) scale(0.93 1)" x="0.46 10.55 18.15" y="0 0 0" font-size="14.0" fill="#fff">J<tspan x="6.84" y="-1.00" textLength="12.08" lengthAdjust="spacingAndGlyphs">-</tspan>K</text>
<text transform="translate(36.50 548.05) rotate(-90) scale(0.93 1)" x="0.15" y="0" font-size="10.9" fill="#fff">s</text>
<text transform="translate(31.50 542.78) rotate(-90) scale(0.93 1)" x="1.61 7.49 14.15 26.67 35.57 45.13 50.65 59.27 65.22 73.16 80.50 88.76" y="0" font-size="14.0" fill="#fff"> (mag arcsec</text>
<text transform="translate(24.90 453.16) rotate(-90) scale(0.93 1)" x="2.51 8.96" y="0 0" font-size="10.9" fill="#fff"><tspan x="-0.20" y="-0.75" textLength="9.06" lengthAdjust="spacingAndGlyphs">-</tspan>2</text>
<text transform="translate(31.50 438.91) rotate(-90) scale(0.93 1)" x="1.17" y="0" font-size="14.0" fill="#fff">)</text>
</svg>
</body>
</html>
